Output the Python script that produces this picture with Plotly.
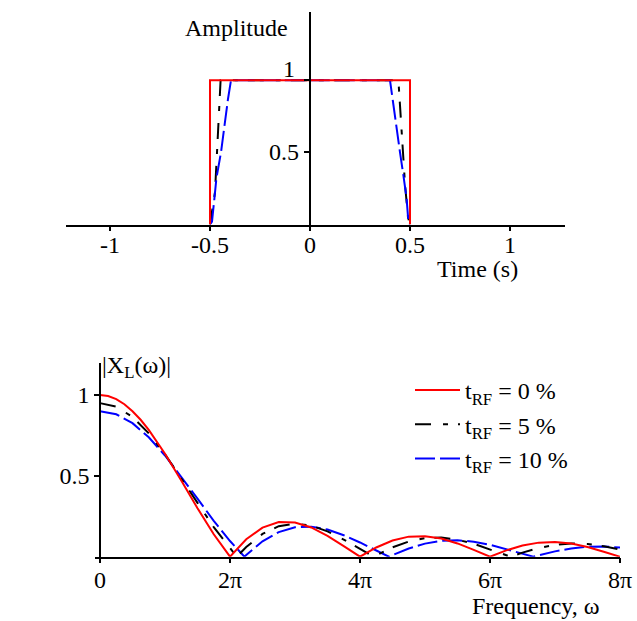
import plotly.graph_objects as go

# ---------------- data: time domain (top) ----------------
t_rf0 = [-0.5, -0.5, 0.5, 0.5]
a_rf0 = [0, 1, 1, 0]
t_rf5 = [-0.5, -0.475, -0.465, -0.46, -0.456, -0.447, 0.442, 0.45, 0.458, 0.463, 0.475, 0.49, 0.5]
a_rf5 = [0, 0.225, 0.5, 0.66, 0.83, 1, 1, 0.83, 0.66, 0.5, 0.28, 0.05, 0]
t_rf10 = [-0.5, -0.49, -0.478, -0.468, -0.445, -0.428, -0.41, -0.395,
          0.40, 0.417, 0.433, 0.45, 0.467, 0.483, 0.492, 0.5]
a_rf10 = [0, 0.02, 0.18, 0.32, 0.5, 0.69, 0.87, 1,
          1, 0.83, 0.66, 0.5, 0.34, 0.18, 0.02, 0]

time_ticks = [-1, -0.5, 0, 0.5, 1]
time_ticklabels = ["-1", "-0.5", "0", "0.5", "1"]
amp_ticks = [0.5, 1]
amp_ticklabels = ["0.5", "1"]

# ---------------- data: spectrum (bottom), frequency in units of pi ----------------
w_rf0 = [0, 0.125, 0.25, 0.375, 0.5, 0.625, 0.75, 0.875, 1, 1.25, 1.5, 1.75, 2, 2.25, 2.5, 2.75, 3,
         3.25, 3.5, 3.75, 4, 4.25, 4.5, 4.75, 5, 5.25, 5.5, 5.75, 6, 6.25, 6.5, 6.75, 7, 7.25,
         7.5, 7.75, 8]
x_rf0 = [1, 0.994, 0.975, 0.943, 0.900, 0.847, 0.784, 0.714, 0.637, 0.471, 0.300, 0.139, 0,
         0.108, 0.180, 0.214, 0.212, 0.181, 0.129, 0.065, 0, 0.057, 0.100, 0.124, 0.127, 0.112,
         0.082, 0.042, 0, 0.039, 0.069, 0.087, 0.091, 0.081, 0.060, 0.031, 0]

w_rf5 = [0, 0.25, 0.5, 0.75, 1, 1.25, 1.5, 1.75, 2, 2.105, 2.25, 2.5, 2.75, 3, 3.25, 3.5, 3.75,
         4, 4.21, 4.25, 4.5, 4.75, 5, 5.25, 5.5, 5.75, 6, 6.25, 6.316, 6.5, 6.75, 7, 7.25, 7.5, 7.75, 8]
x_rf5 = [0.95, 0.928, 0.864, 0.763, 0.634, 0.487, 0.333, 0.183, 0.050, 0, 0.060, 0.141, 0.189,
         0.204, 0.192, 0.157, 0.106, 0.048, 0, 0.009, 0.058, 0.094, 0.115, 0.118, 0.105, 0.080,
         0.046, 0.010, 0, 0.025, 0.054, 0.074, 0.082, 0.079, 0.065, 0.044]

w_rf10 = [0, 0.25, 0.5, 0.75, 1, 1.25, 1.5, 1.75, 2, 2.222, 2.25, 2.5, 2.75, 3, 3.25, 3.5, 3.75,
          4, 4.25, 4.444, 4.5, 4.75, 5, 5.25, 5.5, 5.75, 6, 6.25, 6.5, 6.667, 6.75, 7, 7.25, 7.5, 7.75, 8]
x_rf10 = [0.90, 0.881, 0.826, 0.739, 0.626, 0.496, 0.359, 0.222, 0.097, 0, 0.011, 0.095, 0.152,
          0.182, 0.186, 0.168, 0.133, 0.088, 0.038, 0, 0.010, 0.051, 0.081, 0.098, 0.102, 0.093,
          0.074, 0.048, 0.019, 0, 0.009, 0.033, 0.051, 0.062, 0.063, 0.057]

freq_ticks = [0, 2, 4, 6, 8]
freq_ticklabels = ["0", "2π", "4π", "6π", "8π"]
mag_ticks = [0.5, 1]
mag_ticklabels = ["0.5", "1"]

legend_names = ["t<sub>RF</sub> = 0 %", "t<sub>RF</sub> = 5 %", "t<sub>RF</sub> = 10 %"]

# ---------------- styling ----------------
W, H = 637, 621
FONT = "Liberation Serif"
FS = 24
RED = "#ff0000"
BLACK = "#000000"
BLUE = "#0000ff"
DASH5 = "16px,12px,5px,10px"
DASH10 = "20px,5px"

x_dom_top = [66 / W, 565 / W]
x_rng_top = [-1.22, 1.275]
y_dom_top = [1 - 224.5 / H, 1 - 12 / H]
y_rng_top = [0, 1.473]
pos_top = x_dom_top[0] + (0 - x_rng_top[0]) / (x_rng_top[1] - x_rng_top[0]) * (x_dom_top[1] - x_dom_top[0])

x_dom_bot = [95 / W, 620 / W]
x_rng_bot = [-0.077, 8]
y_dom_bot = [1 - 556.7 / H, 1 - 362.7 / H]
y_rng_bot = [0, 1.2]
pos_bot = x_dom_bot[0] + (0 - x_rng_bot[0]) / (x_rng_bot[1] - x_rng_bot[0]) * (x_dom_bot[1] - x_dom_bot[0])

fig = go.Figure()

# top traces
fig.add_trace(go.Scatter(x=t_rf5, y=a_rf5, mode="lines", xaxis="x", yaxis="y", showlegend=False,
                         line=dict(color=BLACK, width=2, dash=DASH5)))
fig.add_trace(go.Scatter(x=t_rf10, y=a_rf10, mode="lines", xaxis="x", yaxis="y", showlegend=False,
                         line=dict(color=BLUE, width=2, dash=DASH10)))
fig.add_trace(go.Scatter(x=t_rf0, y=a_rf0, mode="lines", xaxis="x", yaxis="y", showlegend=False,
                         line=dict(color=RED, width=2)))

# bottom traces
fig.add_trace(go.Scatter(x=w_rf10, y=x_rf10, mode="lines", xaxis="x2", yaxis="y2", name=legend_names[2],
                         legendrank=3, line=dict(color=BLUE, width=2, dash=DASH10)))
fig.add_trace(go.Scatter(x=w_rf5, y=x_rf5, mode="lines", xaxis="x2", yaxis="y2", name=legend_names[1],
                         legendrank=2, line=dict(color=BLACK, width=2, dash=DASH5)))
fig.add_trace(go.Scatter(x=w_rf0, y=x_rf0, mode="lines", xaxis="x2", yaxis="y2", name=legend_names[0],
                         legendrank=1, line=dict(color=RED, width=2)))

axis_common = dict(showgrid=False, zeroline=False, showline=True, linecolor="black", linewidth=1.5,
                   ticks="outside", tickcolor="black", ticklen=5, tickwidth=1.5, automargin=False,
                   tickfont=dict(family=FONT, size=FS, color="black"))
# overlay axes that only draw the inner half of the crossing tick marks
inner_ticks = dict(showgrid=False, zeroline=False, showline=False, ticks="inside", ticklen=4,
                   tickwidth=1.5, tickcolor="black", showticklabels=False, automargin=False)

annotations = []
for v, lab in zip(amp_ticks, amp_ticklabels):
    annotations.append(dict(x=0, y=v, xref="x", yref="y", text=lab, showarrow=False,
                            xanchor="right", yanchor="middle", xshift=-9 if v < 1 else -13,
                            yshift=0 if v < 1 else 11,
                            font=dict(family=FONT, size=FS, color="black")))

titles = [("Amplitude", 236 / W, 1 - 28 / H),
          ("Time (s)", 477 / W, 1 - 269 / H),
          ("|X<sub>L</sub>(ω)|", 136 / W, 1 - 367 / H),
          ("Frequency, ω", 536 / W, 1 - 606 / H)]
for txt, xx, yy in titles:
    annotations.append(dict(x=xx, y=yy, xref="paper", yref="paper", text=txt, showarrow=False,
                            xanchor="center", yanchor="middle",
                            font=dict(family=FONT, size=FS, color="black")))

fig.update_layout(
    width=W, height=H, autosize=False,
    margin=dict(l=0, r=0, t=0, b=0, pad=0, autoexpand=False),
    paper_bgcolor="white", plot_bgcolor="rgba(0,0,0,0)",
    font=dict(family=FONT, size=FS, color="black"),
    xaxis=dict(domain=x_dom_top, range=x_rng_top, anchor="y", ticklabelstandoff=-7,
               tickvals=time_ticks, ticktext=time_ticklabels, **axis_common),
    yaxis=dict(domain=y_dom_top, range=y_rng_top, anchor="free", position=pos_top,
               tickvals=amp_ticks, showticklabels=False, **axis_common),
    xaxis2=dict(domain=x_dom_bot, range=x_rng_bot, anchor="y2", ticklabelstandoff=-4,
                tickvals=freq_ticks, ticktext=freq_ticklabels, **axis_common),
    yaxis2=dict(domain=y_dom_bot, range=y_rng_bot, anchor="free", position=pos_bot,
                tickvals=mag_ticks, ticktext=mag_ticklabels, **axis_common),
    xaxis3=dict(overlaying="x", anchor="y", range=x_rng_top, tickvals=time_ticks, **inner_ticks),
    yaxis3=dict(overlaying="y", anchor="free", position=pos_top, range=y_rng_top,
                tickvals=amp_ticks, **inner_ticks),
    xaxis4=dict(overlaying="x2", anchor="y2", range=x_rng_bot, tickvals=freq_ticks, **inner_ticks),
    legend=dict(x=410 / W, y=1 - 368 / H, xanchor="left", yanchor="top",
                bgcolor="rgba(0,0,0,0)", itemwidth=45, tracegroupgap=0,
                font=dict(family=FONT, size=FS, color="black")),
    annotations=annotations,
    showlegend=True,
)

fig.write_html(
    "out.html",
    config={"displayModeBar": False},
    post_script="document.body.style.margin='0';document.body.style.overflow='hidden';",
)
